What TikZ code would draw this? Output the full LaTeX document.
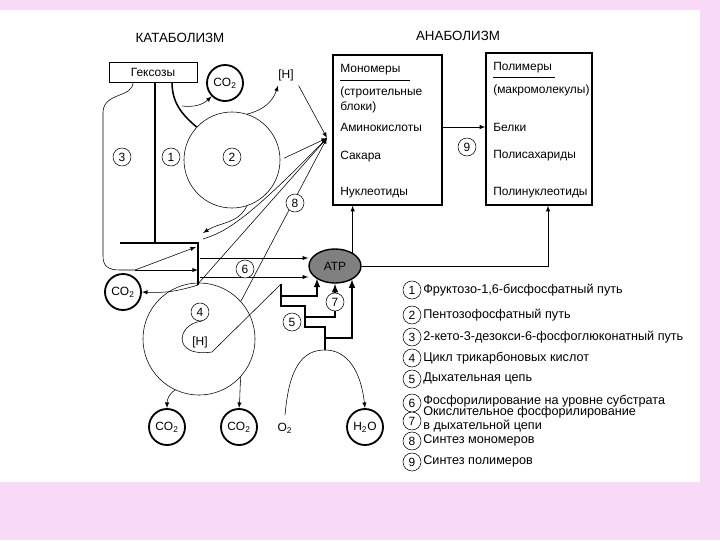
\documentclass[tikz,border=0pt]{standalone}
\usepackage{fontspec}
\setmainfont{Liberation Sans}
\usetikzlibrary{shapes.geometric}
\definecolor{slidepink}{RGB}{249,218,246}
\tikzset{
  num/.style   = {circle, draw, fill=white, inner sep=0pt, minimum size=4.5mm},
  gas/.style   = {circle, draw, line width=1.3pt, inner sep=0pt, minimum size=9mm},
  cyc/.style   = {circle, draw, inner sep=0pt},
  trunk/.style = {line width=1.6pt},
  stair/.style = {line width=1.1pt},
  ar/.style    = {-latex},
  txt/.style   = {anchor=west, inner sep=0pt},
  leg/.style   = {txt, font=\fontsize{9}{8.5}\selectfont}
}

\begin{document}
\begin{tikzpicture}[x=0.025cm, y=-0.025cm, font=\fontsize{8.5}{9}\selectfont]
\fill[slidepink] (0,0) rectangle (720,540);   % slide frame
\fill[white] (0,10) rectangle (700,482);
\useasboundingbox (0,0) rectangle (720,540);

\node at (180,38) {\fontsize{9.5}{10}\selectfont КАТАБОЛИЗМ};
\node at (458,36) {\fontsize{9.5}{10}\selectfont АНАБОЛИЗМ};

\coordinate (P)  at (327,138);   % inlet of the monomers
\coordinate (tv) at (155,243);
\coordinate (bl) at (120,243);
\coordinate (br) at (198,243);
\coordinate (bb) at (198,285);
\coordinate (g3) at (135,270);
\coordinate (k3) at (196,247);
\coordinate (a6) at (200,258);
\coordinate (b6) at (200,277);
\coordinate (hx) at (182,106);
\coordinate (k1) at (203,233);
\coordinate (k2) at (203,239);
\coordinate (k4) at (548,266);
\coordinate (s0) at (281,284);   % respiratory chain
\coordinate (s1) at (281,306);
\coordinate (s2) at (305,306);
\coordinate (s3) at (305,327);
\coordinate (s4) at (325,327);
\coordinate (s5) at (325,350);
\coordinate (r1) at (281,296);
\coordinate (r2) at (317,296);
\coordinate (r3) at (305,317);
\coordinate (r4) at (335,317);
\coordinate (r5) at (325,338);
\coordinate (r6) at (352,338);

\node[draw, minimum width=2.2cm, minimum height=5mm] (Hex) at (153,72) {Гексозы};
\node[gas] (CO2t) at (225,83) {CO\textsubscript{2}};
\node (Ht) at (286,75) {[H]};
\node[cyc, minimum size=2.4cm] (C2) at (232,160) {};
\node[cyc, minimum size=2.8cm] (C4) at (199,339) {};
\node[num] (n4) at (200,312) {4};
\node (Hb) at (200,342) {[H]};
\node[gas] (CO2l) at (123,292) {CO\textsubscript{2}};
\node[gas] (CO2a) at (167,427) {CO\textsubscript{2}};
\node[gas] (CO2b) at (239,427) {CO\textsubscript{2}};
\node (O2) at (285,428) {O\textsubscript{2}};
\node[gas] (H2O) at (365,427) {H\textsubscript{2}O};
\node[ellipse, draw, line width=1pt, fill=black!50, inner sep=0pt,
      minimum width=1.3cm, minimum height=8.5mm] (ATP) at (335,266) {ATP};

\node[draw, line width=0.9pt, minimum width=2.725cm, minimum height=3.75cm] (Mon) at (387.5,130) {};
\node[txt] at (340,70) {Мономеры};
\draw (340,80) -- (410,80);
\node[txt] at (340,92) {(строительные};
\node[txt] at (340,107) {блоки)};
\node[txt] (am) at (340,127) {Аминокислоты};
\node[txt] at (340,157) {Сакара};
\node[txt] at (340,193) {Нуклеотиды};

\node[draw, line width=0.9pt, minimum width=2.65cm, minimum height=3.8cm] (Pol) at (539,129) {};
\node[txt] at (493,68) {Полимеры};
\draw (493,77) -- (555,77);
\node[txt] at (493,90) {(макромолекулы)};
\node[txt] at (493,127) {Белки};
\node[txt] at (493,156) {Полисахариды};
\node[txt] at (493,193) {Полинуклеотиды};
\draw[ar] (Mon.east |- am) -- (Pol.west |- am);

% glycolysis trunk and branch 3
\draw[trunk] (Hex.south -| tv) -- (tv);
\draw[trunk] (bl) -- (br) -- (bb);
\draw ([xshift=-5mm]Hex.south) .. controls (133,98) and (104,92) .. (103,112) -- (103,256)
  .. controls (103,266) and (108,270) .. (120,270) -- (g3);
\draw[ar] (g3) -- (br |- g3);
\draw[ar] (g3) -- (k3);
\draw[ar] (bb) to[bend left=10] (CO2l.east);

% pentose cycle
\draw[line width=1.1pt] ([xshift=4.75mm]Hex.south) to[out=-90,in=140] (C2.137);
\draw[ar] (hx) to[bend right=25] (CO2t.225);
\draw[ar] (C2.72) to[bend right=30] ([xshift=-2mm]Ht.south);
\draw[ar] (Ht.south east) -- (P);
\draw[ar, shorten <=3pt] (C2.east) -- (P);
\draw[ar] (C2.-72) .. controls (238,224) and (220,222) .. (k1);

% synthesis of monomers
\draw[ar] (k2) .. controls (225,232) and (245,222) .. (P);
\draw[ar] (C4.90) -- (P);
\draw[ar] (C4.42) -- (P);

% ATP in and out
\draw[ar] (a6) -- (a6 -| ATP.west);
\draw[ar] (b6) -- (b6 -| ATP.west);
\draw[ar] (ATP.37) -- (ATP.37 |- Mon.south);
\draw[ar] (ATP.east) -- (k4 |- ATP.east) -- (k4 |- Pol.south);

% TCA cycle products
\draw[ar] (C4.-115) to[out=210,in=90] (CO2a.north);
\draw[ar] (C4.-42) to[out=-95,in=85] (CO2b.north);
\draw (n4.-80) .. controls (176,324) and (172,358) .. (212,352) -- (s0);

% respiratory chain
\draw[stair] (s0) -- (s1) -- (s2) -- (s3) -- (s4) -- (s5);
\draw[stair, ar] (r1) -- (r2) -- (r2 |- ATP.214);
\node[num] (n7) at (335,302) {7};
\draw[stair] (r3) -- (r4) -- (n7.south);
\draw[stair, ar] (n7.north) -- (n7.north |- ATP.south);
\draw[stair, ar] (r5) -- (r6) -- (r6 |- ATP.-37);
\draw[ar] ([yshift=2pt]O2.north) .. controls (289,368) and (302,350) .. (s5)
  .. controls (348,350) and (361,372) .. (H2O.north);

\node[num] (n1) at (171,157) {1};
\node[num] (n2) at (232,157) {2};
\node[num] (n3) at (122,157) {3};
\node[num] (n5) at (292,322) {5};
\node[num] (n6) at (245,269) {6};
\node[num] (n8) at (295,203) {8};
\node[num] (n9) at (467,147) {9};

% legend
\node[num] (l1) at (412,290) {1};
\node[leg] at (423,290) {Фруктозо-1,6-бисфосфатный путь};
\node[num] (l2) at (412,315) {2};
\node[leg] at (423,315) {Пентозофосфатный путь};
\node[num] (l3) at (412,337) {3};
\node[leg] at (423,337) {2-кето-3-дезокси-6-фосфоглюконатный путь};
\node[num] (l4) at (412,358) {4};
\node[leg] at (423,358) {Цикл трикарбоновых кислот};
\node[num] (l5) at (412,379) {5};
\node[leg] at (423,378) {Дыхательная цепь};
\node[num] (l6) at (412,403) {6};
\node[leg] at (423,401) {Фосфорилирование на уровне субстрата};
\node[num] (l7) at (412,421) {7};
\node[leg, align=left] at (423,419) {Окислительное фосфорилирование\\в дыхательной цепи};
\node[num] (l8) at (412,441) {8};
\node[leg] at (423,440) {Синтез мономеров};
\node[num] (l9) at (412,462) {9};
\node[leg] at (423,461) {Синтез полимеров};
\end{tikzpicture}
\end{document}
